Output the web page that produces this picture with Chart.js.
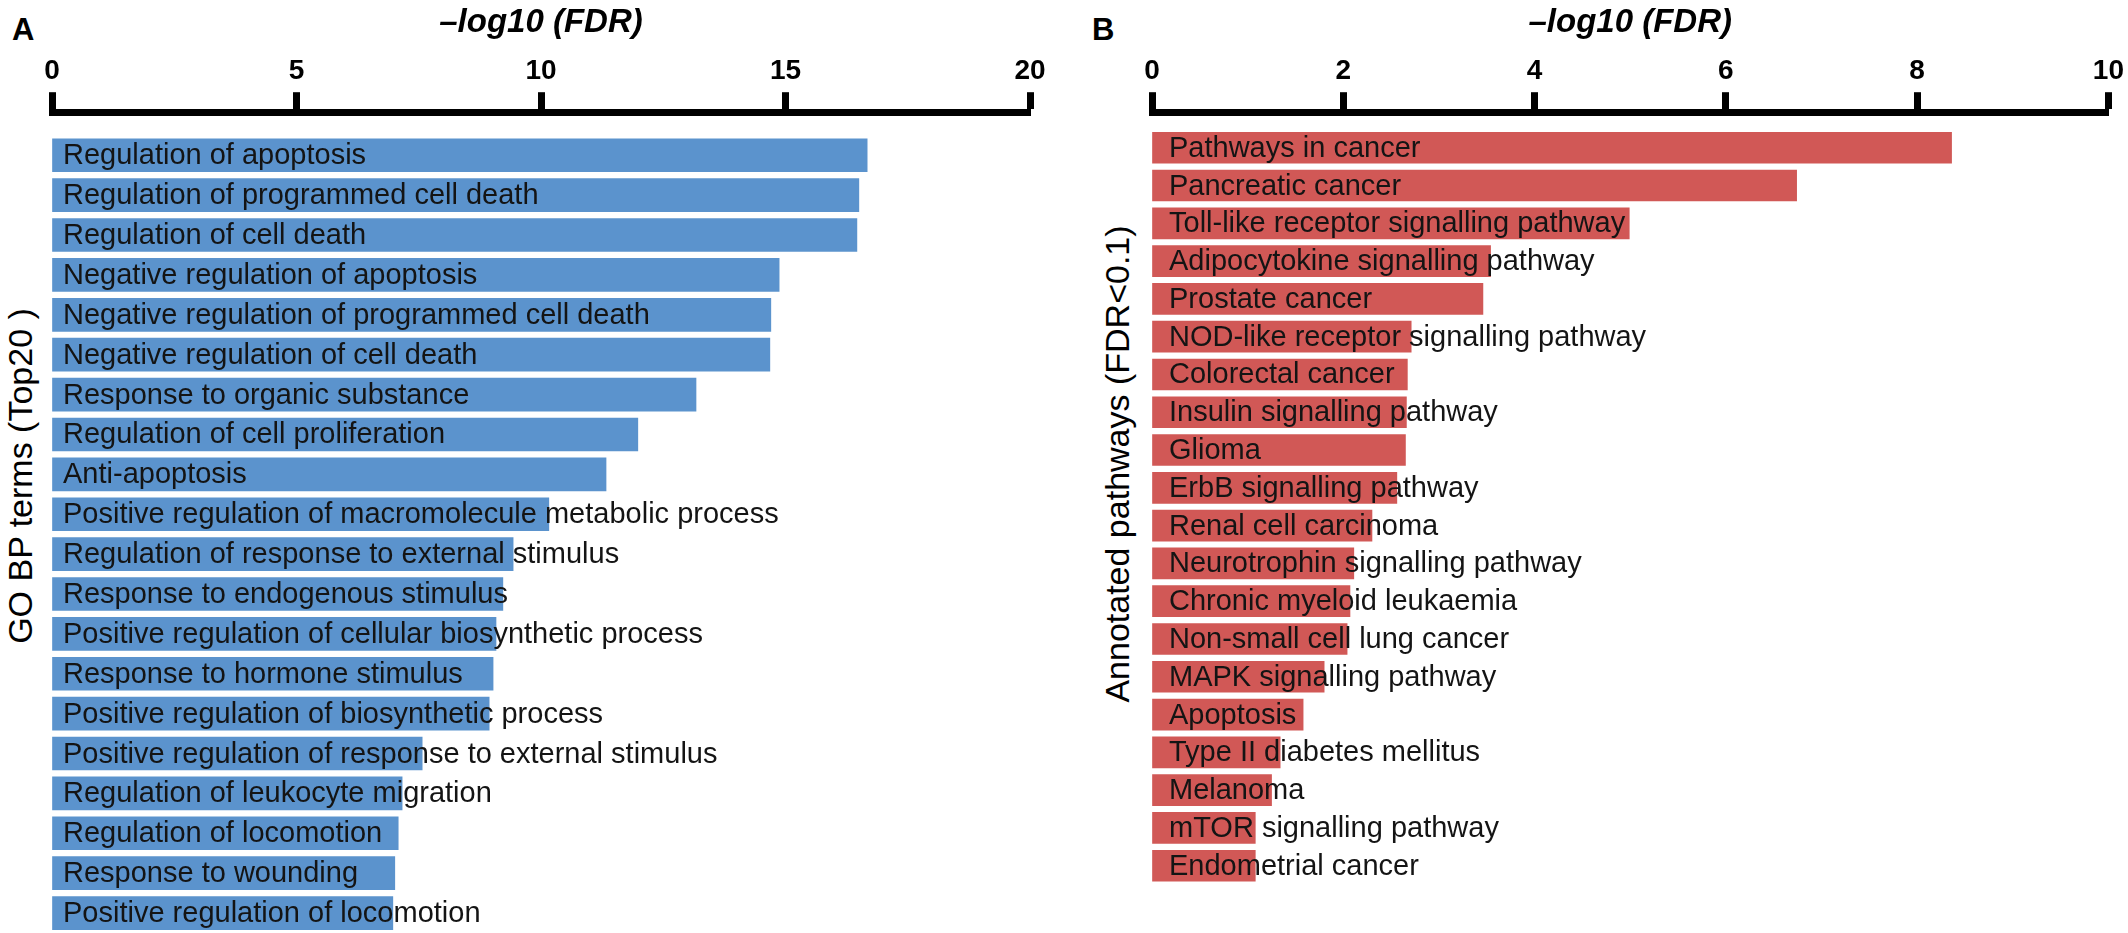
<!DOCTYPE html>
<html>
<head>
<meta charset="utf-8">
<script src="https://cdn.jsdelivr.net/npm/chart.js@4.4.1/dist/chart.umd.min.js"></script>
<style>
  html, body { margin: 0; padding: 0; background: #fff; }
  body { width: 2128px; height: 933px; position: relative; overflow: hidden; font-family: "Liberation Sans", Arial, sans-serif; }
  canvas { position: absolute; top: 0; }
  .panel { position: absolute; top: 14px; font-weight: bold; font-size: 31px; line-height: 31px; }
  .ytitle { position: absolute; font-size: 34px; line-height: 34px; white-space: nowrap; transform: translate(-50%, -50%) rotate(-90deg); }
</style>
</head>
<body>
<div class="panel" style="left:12px">A</div>
<div class="panel" style="left:1092px">B</div>
<div class="ytitle" style="left:20px; top:476px">GO BP terms (Top20 )</div>
<div class="ytitle" style="left:1117px; top:464px">Annotated pathways (FDR&lt;0.1)</div>
<canvas id="chartA" width="1080" height="933" style="left:0"></canvas>
<canvas id="chartB" width="1048" height="933" style="left:1080px"></canvas>
<script>
const goTerms = [
  "Regulation of apoptosis",
  "Regulation of programmed cell death",
  "Regulation of cell death",
  "Negative regulation of apoptosis",
  "Negative regulation of programmed cell death",
  "Negative regulation of cell death",
  "Response to organic substance",
  "Regulation of cell proliferation",
  "Anti-apoptosis",
  "Positive regulation of macromolecule metabolic process",
  "Regulation of response to external stimulus",
  "Response to endogenous stimulus",
  "Positive regulation of cellular biosynthetic process",
  "Response to hormone stimulus",
  "Positive regulation of biosynthetic process",
  "Positive regulation of response to external stimulus",
  "Regulation of leukocyte migration",
  "Regulation of locomotion",
  "Response to wounding",
  "Positive regulation of locomotion"
];
const goValues = [16.67, 16.50, 16.46, 14.87, 14.70, 14.68, 13.17, 11.98, 11.33, 10.16,
                  9.43, 9.22, 9.08, 9.02, 8.94, 7.57, 7.16, 7.08, 7.01, 6.97];
const goTicks = [0, 5, 10, 15, 20];

const pathways = [
  "Pathways in cancer",
  "Pancreatic cancer",
  "Toll-like receptor signalling pathway",
  "Adipocytokine signalling pathway",
  "Prostate cancer",
  "NOD-like receptor signalling pathway",
  "Colorectal cancer",
  "Insulin signalling pathway",
  "Glioma",
  "ErbB signalling pathway",
  "Renal cell carcinoma",
  "Neurotrophin signalling pathway",
  "Chronic myeloid leukaemia",
  "Non-small cell lung cancer",
  "MAPK signalling pathway",
  "Apoptosis",
  "Type II diabetes mellitus",
  "Melanoma",
  "mTOR signalling pathway",
  "Endometrial cancer"
];
const pathwayValues = [8.36, 6.74, 4.99, 3.54, 3.46, 2.71, 2.67, 2.66, 2.65, 2.56,
                       2.30, 2.11, 2.07, 2.04, 1.80, 1.58, 1.34, 1.25, 1.08, 1.08];
const pathwayTicks = [0, 2, 4, 6, 8, 10];

const FONT = '"Liberation Sans", Arial, sans-serif';

// writes the category name inside each bar, starting at the bar base
const barLabels = {
  id: "barLabels",
  afterDatasetsDraw(chart, args, opts) {
    const { ctx, chartArea } = chart;
    const meta = chart.getDatasetMeta(0);
    ctx.save();
    ctx.font = `29px ${FONT}`;
    ctx.fillStyle = "#141414";
    ctx.textBaseline = "middle";
    ctx.textAlign = "left";
    meta.data.forEach((bar, i) => {
      ctx.fillText(opts.names[i], chartArea.left + opts.pad, bar.y + 1);
    });
    ctx.restore();
  }
};

function makeChart(id, names, values, ticks, color, thickness, yMin, yMax, padding, pad) {
  return new Chart(document.getElementById(id), {
    type: "bar",
    data: {
      datasets: [{
        data: values.map((v, i) => ({ x: v, y: i })),
        backgroundColor: color,
        barThickness: thickness,
        clip: false
      }]
    },
    options: {
      indexAxis: "y",
      responsive: false,
      animation: false,
      devicePixelRatio: 1,
      layout: { padding },
      plugins: {
        legend: { display: false },
        tooltip: { enabled: false },
        barLabels: { names, pad }
      },
      scales: {
        x: {
          type: "linear",
          position: "top",
          min: ticks[0],
          max: ticks[ticks.length - 1],
          afterBuildTicks: (scale) => { scale.ticks = ticks.map(v => ({ value: v })); },
          ticks: {
            color: "#000",
            padding: 4,
            font: { family: FONT, size: 28, weight: "bold" }
          },
          grid: {
            drawOnChartArea: false,
            drawTicks: true,
            tickLength: 20,
            tickWidth: 7,
            tickColor: "#000"
          },
          border: { display: true, width: 7, color: "#000" },
          title: {
            display: true,
            text: "\u2013log10 (FDR)",
            color: "#000",
            font: { family: FONT, size: 33, weight: "bold", style: "italic" },
            padding: { top: 0, bottom: 8 }
          }
        },
        y: {
          type: "linear",
          display: false,
          offset: false,
          reverse: true,
          min: yMin,
          max: yMax
        }
      }
    },
    plugins: [barLabels]
  });
}

makeChart("chartA", goTerms, goValues, goTicks, "#5B93CD", 33, -1.08, 19.5,
          { top: 3, left: 52, right: 50, bottom: 0 }, 11);
makeChart("chartB", pathways, pathwayValues, pathwayTicks, "#D15856", 31, -0.94, 20.78,
          { top: 3, left: 72, right: 18, bottom: 0 }, 17);
</script>
</body>
</html>
